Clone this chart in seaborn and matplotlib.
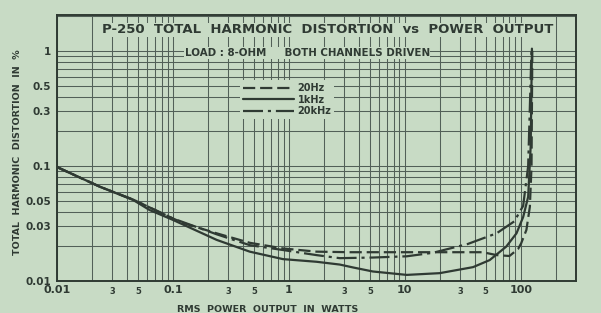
import numpy as np
import pandas as pd
import matplotlib
matplotlib.use("Agg")
import matplotlib.pyplot as plt
import seaborn as sns
from matplotlib.ticker import FixedLocator, FixedFormatter

# ---- data ----
p_20hz = [0.01, 0.0235, 0.0455, 0.1, 0.123, 0.238, 0.46, 0.89, 1.73, 3.36, 10, 20, 47, 62, 80, 95, 101, 112, 120, 124, 126]
thd_20hz = [0.098, 0.066, 0.051, 0.035, 0.0319, 0.026, 0.0215, 0.0192, 0.018, 0.0178, 0.0178, 0.0178, 0.0178, 0.0168, 0.0165, 0.019, 0.0213, 0.0278, 0.0443, 0.1, 1.05]

p_1khz = [0.01, 0.0235, 0.0455, 0.063, 0.1, 0.238, 0.46, 0.89, 1.73, 2.75, 3.6, 5.3, 10.4, 20, 38.8, 54, 75, 92, 105, 116, 122, 125]
thd_1khz = [0.098, 0.066, 0.0506, 0.0414, 0.034, 0.0228, 0.018, 0.0155, 0.0147, 0.0139, 0.0131, 0.0121, 0.0113, 0.0117, 0.0132, 0.0152, 0.0199, 0.026, 0.036, 0.054, 0.15, 1.05]

p_20khz = [0.01, 0.0235, 0.0455, 0.1, 0.238, 0.46, 0.89, 1.73, 2.75, 5.3, 10.4, 17.5, 35, 62, 88, 105, 116, 124]
thd_20khz = [0.098, 0.066, 0.051, 0.035, 0.0255, 0.0205, 0.0186, 0.0168, 0.0158, 0.016, 0.0164, 0.0176, 0.021, 0.026, 0.033, 0.045, 0.1, 1.05]

series_labels = ["20Hz", "1kHz", "20kHz"]

x_major_ticks = [0.01, 0.1, 1, 10, 100]
x_major_labels = ["0.01", "0.1", "1", "10", "100"]
y_major_ticks = [0.01, 0.1, 1]
y_major_labels = ["0.01", "0.1", "1"]
y_minor_labeled = [0.03, 0.05, 0.3, 0.5]
y_minor_labels = ["0.03", "0.05", "0.3", "0.5"]
x_minor_labeled_digits = [3, 5]

title = "P-250  TOTAL  HARMONIC  DISTORTION  vs  POWER  OUTPUT"
subtitle = "LOAD : 8-OHM     BOTH CHANNELS DRIVEN"
xlabel = "RMS  POWER  OUTPUT  IN  WATTS"
ylabel = "TOTAL  HARMONIC  DISTORTION  IN  %"

# ---- style ----
BG = "#c8dbc5"
INK = "#2f3a33"
GRID = "#526058"

sns.set_theme(style="ticks")
plt.rcParams["font.family"] = ["DejaVu Sans"]
plt.rcParams["font.weight"] = "bold"

fig = plt.figure(figsize=(6.01, 3.13), dpi=100)
fig.patch.set_facecolor(BG)
ax = fig.add_axes([57 / 601, 1 - 281 / 313, (576 - 57) / 601, (281 - 15) / 313])
ax.set_facecolor(BG)

frames = []
for lab, p, t in zip(series_labels, [p_20hz, p_1khz, p_20khz], [thd_20hz, thd_1khz, thd_20khz]):
    frames.append(pd.DataFrame({"power": p, "thd": t, "freq": lab}))
df = pd.concat(frames, ignore_index=True)

styles = {
    "20Hz": (0, (5.5, 2.2)),
    "1kHz": "-",
    "20kHz": (0, (9, 2.2, 1.4, 2.2)),
}
for lab in series_labels:
    sub = df[df["freq"] == lab]
    sns.lineplot(data=sub, x="power", y="thd", ax=ax, color=INK, lw=1.6,
                 linestyle=styles[lab], label=lab, sort=False, zorder=5)

ax.set_xscale("log")
ax.set_yscale("log")
ax.set_xlim(0.01, 300)
ax.set_ylim(0.01, 2.06)

# ticks
ax.xaxis.set_major_locator(FixedLocator(x_major_ticks))
ax.xaxis.set_major_formatter(FixedFormatter(x_major_labels))
xminor = [d * m for d in [0.01, 0.1, 1, 10, 100] for m in range(2, 10) if d * m < 300]
xminor_labels = [str(m) if m in x_minor_labeled_digits else "" for d in [0.01, 0.1, 1, 10, 100]
                 for m in range(2, 10) if d * m < 300]
ax.xaxis.set_minor_locator(FixedLocator(xminor))
ax.xaxis.set_minor_formatter(FixedFormatter(xminor_labels))

ax.yaxis.set_major_locator(FixedLocator(y_major_ticks))
ax.yaxis.set_major_formatter(FixedFormatter(y_major_labels))
yminor = [d * m for d in [0.01, 0.1, 1] for m in range(2, 10) if d * m <= 2.0]
yminor_labels = []
for v in yminor:
    lab = ""
    for lv, ls in zip(y_minor_labeled, y_minor_labels):
        if abs(v - lv) < 1e-9:
            lab = ls
    yminor_labels.append(lab)
ax.yaxis.set_minor_locator(FixedLocator(yminor))
ax.yaxis.set_minor_formatter(FixedFormatter(yminor_labels))

ax.tick_params(axis="both", which="both", length=0, colors=INK)
ax.tick_params(axis="x", which="major", labelsize=8, pad=3)
ax.tick_params(axis="x", which="minor", labelsize=6, pad=4)
ax.tick_params(axis="y", which="both", labelsize=7.5, pad=4)
for lbl in ax.get_xticklabels(which="both") + ax.get_yticklabels(which="both"):
    lbl.set_fontweight("bold")
    lbl.set_color(INK)

ax.grid(True, which="both", color=GRID, lw=0.75, zorder=0)
ax.set_axisbelow(True)
for s in ax.spines.values():
    s.set_color(INK)
    s.set_linewidth(1.4)

ax.set_xlabel("")
ax.set_ylabel("")

# titles inside the plot (mask grid behind)
ax.text(0.522, 0.944, title, transform=ax.transAxes, ha="center", va="center",
        fontsize=9.5, fontweight="bold", color=INK, zorder=6,
        bbox=dict(facecolor=BG, edgecolor="none", pad=0.5))
ax.text(0.482, 0.857, subtitle, transform=ax.transAxes, ha="center", va="center",
        fontsize=7.4, fontweight="bold", color=INK, zorder=6,
        bbox=dict(facecolor=BG, edgecolor="none", pad=0.5))

leg = ax.legend(loc="upper left", bbox_to_anchor=(0.353, 0.755), frameon=True,
                fontsize=7, handlelength=5.2, handletextpad=0.4, labelspacing=0.15,
                borderpad=0.3, borderaxespad=0.0, fancybox=False)
leg.get_frame().set_facecolor(BG)
leg.get_frame().set_edgecolor("none")
leg.get_frame().set_alpha(1)
for t in leg.get_texts():
    t.set_color(INK)
    t.set_fontweight("bold")
leg.set_zorder(7)

fig.text(18 / 601, 1 - 152 / 313, ylabel, rotation=90, ha="center", va="center",
         fontsize=6.8, fontweight="bold", color=INK)
fig.text(268 / 601, 1 - 310 / 313, xlabel, ha="center", va="center",
         fontsize=6.8, fontweight="bold", color=INK)

fig.savefig("out.png", dpi=100, facecolor=BG)
